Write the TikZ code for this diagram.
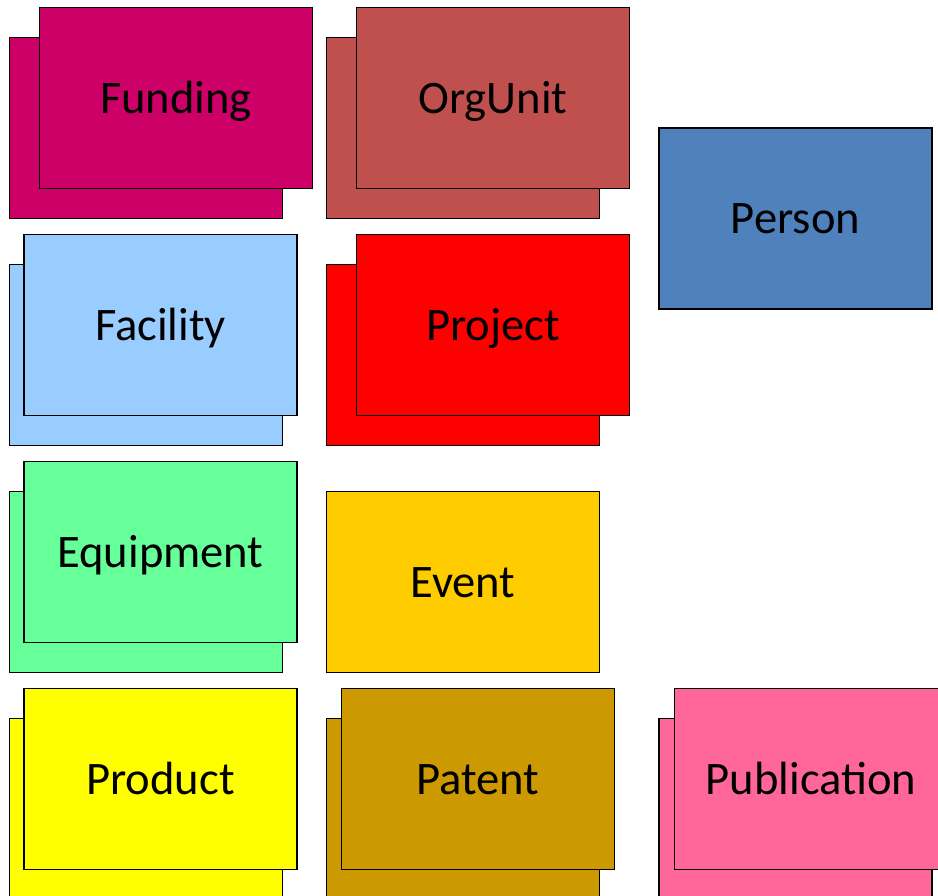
\documentclass[tikz,border=0pt]{standalone}
\usepackage{fontspec}
\setmainfont{Carlito}
\usepackage{tikz}
\definecolor{fundingpink}{HTML}{CC0066}
\definecolor{orgunitred}{HTML}{C0504D}
\definecolor{personblue}{HTML}{4F81BD}
\definecolor{facilityblue}{HTML}{99CCFF}
\definecolor{projectred}{HTML}{FF0000}
\definecolor{equipgreen}{HTML}{66FF99}
\definecolor{eventyellow}{HTML}{FFCC00}
\definecolor{productyellow}{HTML}{FFFF00}
\definecolor{patentgold}{HTML}{CC9900}
\definecolor{pubpink}{HTML}{FF6699}
\tikzstyle{eblock} = [rectangle, draw, line width=1.5pt, inner sep=0pt,
minimum width=273pt, minimum height=181pt, text height=38pt, text depth=7pt,
font=\fontsize{46.6}{56}\selectfont]

\begin{document}
\begin{tikzpicture}[node distance=227pt]
	\useasboundingbox (0,0) rectangle (938pt,-896pt);
	\clip (0,0) rectangle (938pt,-896pt);
	% back sheets
	\node (FundingBack) [eblock, fill=fundingpink] at (146pt,-128pt) {};
	\node (OrgUnitBack) [eblock, fill=orgunitred, right of=FundingBack, xshift=90pt] {};
	\node (Person) [eblock, fill=personblue, right of=OrgUnitBack, xshift=105.5pt, yshift=-90.5pt] {Person};
	\node (Funding) [eblock, fill=fundingpink] at ([shift={(30pt,30pt)}]FundingBack) {Funding};
	\node (OrgUnit) [eblock, fill=orgunitred] at ([shift={(30pt,30pt)}]OrgUnitBack) {OrgUnit};

	\node (FacilityBack) [eblock, fill=facilityblue, below of=FundingBack] {};
	\node (ProjectBack) [eblock, fill=projectred, below of=OrgUnitBack] {};
	\node (Facility) [eblock, fill=facilityblue] at ([shift={(14.5pt,30pt)}]FacilityBack) {Facility};
	\node (Project) [eblock, fill=projectred] at ([shift={(30pt,30pt)}]ProjectBack) {Project};

	\node (EquipmentBack) [eblock, fill=equipgreen, below of=FacilityBack] {};
	\node (Event) [eblock, fill=eventyellow, below of=ProjectBack] {Event};
	\node (Equipment) [eblock, fill=equipgreen] at ([shift={(14.5pt,30pt)}]EquipmentBack) {Equipment};

	\node (ProductBack) [eblock, fill=productyellow, below of=EquipmentBack] {};
	\node (PatentBack) [eblock, fill=patentgold, below of=Event] {};
	\node (PublicationBack) [eblock, fill=pubpink, right of=PatentBack, xshift=105.5pt] {};
	\node (Product) [eblock, fill=productyellow] at ([shift={(14.5pt,30pt)}]ProductBack) {Product};
	\node (Patent) [eblock, fill=patentgold] at ([shift={(15pt,30pt)}]PatentBack) {Patent};
	\node (Publication) [eblock, fill=pubpink] at ([shift={(15.5pt,30pt)}]PublicationBack) {Publication};
\end{tikzpicture}
\end{document}
